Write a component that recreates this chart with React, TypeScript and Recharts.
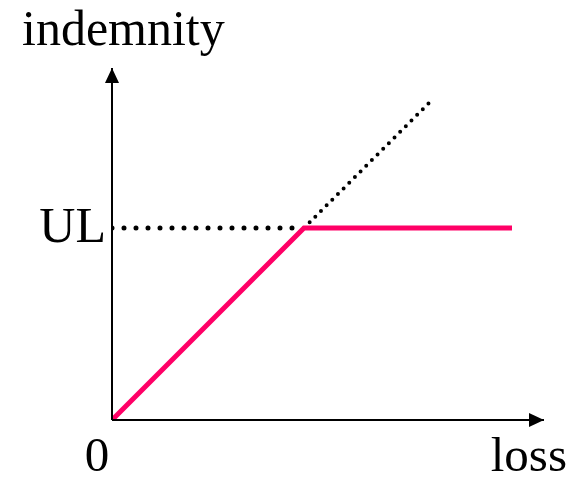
import React from "react";
import {
  LineChart,
  Line,
  XAxis,
  YAxis,
  ReferenceDot,
  Label,
} from "recharts";

// loss / indemnity in the same units on both axes
const lossPoints = [0, 12, 25];
const indemnityPoints = [0, 12, 12];
const limitLevel = 12;
const noLimitEnd = 19.8;
const xMax = 27;
const yMax = 22;

const PINK = "#ff0066";
const FONT = "'Liberation Serif', 'Times New Roman', serif";

const covered = lossPoints.map((x, i) => ({ x, y: indemnityPoints[i] }));
const noLimit = [
  { x: limitLevel, y: limitLevel },
  { x: noLimitEnd, y: noLimitEnd },
];
const limitGuide = [
  { x: 0, y: limitLevel },
  { x: limitLevel, y: limitLevel },
];

function RightArrow({ cx, cy }: { cx: number; cy: number }) {
  return <polygon points={`${cx},${cy} ${cx - 15},${cy - 7} ${cx - 15},${cy + 7}`} fill="#000" />;
}

function UpArrow({ cx, cy }: { cx: number; cy: number }) {
  return <polygon points={`${cx},${cy} ${cx - 7},${cy + 15} ${cx + 7},${cy + 15}`} fill="#000" />;
}

function XTick({ x, y, payload }: any) {
  const isOrigin = payload.value === 0;
  return (
    <text
      x={isOrigin ? x - 15 : x + 23}
      y={y + 43}
      textAnchor={isOrigin ? "middle" : "end"}
      fontFamily={FONT}
      fontSize={49}
      fill="#000"
    >
      {isOrigin ? "0" : "loss"}
    </text>
  );
}

function YTick({ x, y }: any) {
  return (
    <text x={x + 2} y={y + 14} textAnchor="end" fontFamily={FONT} fontSize={50} fill="#000">
      UL
    </text>
  );
}

export default function App() {
  return (
    <div style={{ position: "absolute", left: 0, top: 0, background: "#fff" }}>
      <LineChart width={577} height={482} margin={{ top: 68, right: 33, bottom: 0, left: 0 }}>
        <XAxis
          type="number"
          dataKey="x"
          domain={[0, xMax]}
          ticks={[0, xMax]}
          allowDataOverflow
          height={62}
          tickLine={false}
          axisLine={{ stroke: "#000", strokeWidth: 2 }}
          tick={<XTick />}
        />
        <YAxis
          type="number"
          dataKey="y"
          domain={[0, yMax]}
          ticks={[limitLevel]}
          allowDataOverflow
          width={112}
          tickLine={false}
          axisLine={{ stroke: "#000", strokeWidth: 2 }}
          tick={<YTick />}
        >
          <Label
            content={(props: any) => (
              <text
                x={props.viewBox.x + 22}
                y={props.viewBox.y - 23}
                fontFamily={FONT}
                fontSize={50}
                fill="#000"
              >
                indemnity
              </text>
            )}
          />
        </YAxis>
        <Line
          data={limitGuide}
          dataKey="y"
          stroke="#000"
          strokeWidth={5}
          strokeDasharray="0 12"
          strokeLinecap="round"
          dot={false}
          activeDot={false}
          isAnimationActive={false}
        />
        <Line
          data={noLimit}
          dataKey="y"
          stroke="#000"
          strokeWidth={4}
          strokeDasharray="0 8"
          strokeLinecap="round"
          dot={false}
          activeDot={false}
          isAnimationActive={false}
        />
        <Line
          data={covered}
          dataKey="y"
          stroke={PINK}
          strokeWidth={5}
          dot={false}
          activeDot={false}
          isAnimationActive={false}
        />
        <ReferenceDot x={xMax} y={0} ifOverflow="visible" shape={(p: any) => <RightArrow cx={p.cx} cy={p.cy} />} />
        <ReferenceDot x={0} y={yMax} ifOverflow="visible" shape={(p: any) => <UpArrow cx={p.cx} cy={p.cy} />} />
      </LineChart>
    </div>
  );
}
